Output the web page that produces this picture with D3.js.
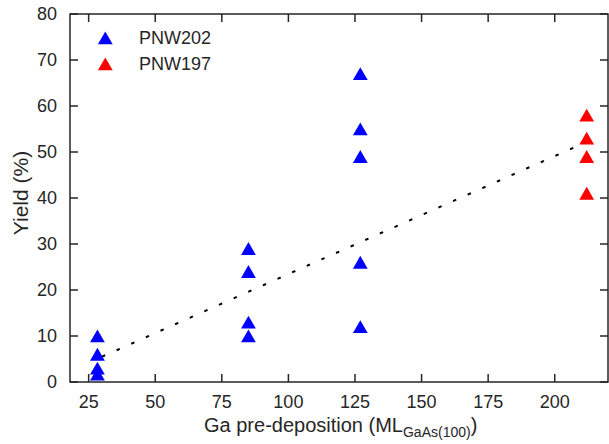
<!DOCTYPE html>
<html><head><meta charset="utf-8">
<script src="https://cdn.jsdelivr.net/npm/d3@7"></script>
<style>body{margin:0;background:#fff}svg{display:block}text{font-family:"Liberation Sans",Arial,sans-serif;fill:#262626}</style>
</head><body>
<script>
const xTicks = [25, 50, 75, 100, 125, 150, 175, 200];
const yTicks = [0, 10, 20, 30, 40, 50, 60, 70, 80];
const pnw202X = [28.3, 28.3, 28.3, 28.3, 85, 85, 85, 85, 127, 127, 127, 127, 127];
const pnw202Y = [10, 6, 3, 1.7, 29, 24, 13, 10, 67, 55, 49, 26, 12];
const pnw197X = [212, 212, 212, 212];
const pnw197Y = [58, 53, 49, 41];
const fitX = [30, 212];
const fitY = [5.5, 52.2];
const seriesNames = ["PNW202", "PNW197"];
const seriesColors = ["#0000ff", "#ff0000"];

const W = 609, H = 444;
const L = 70, R = 608, T = 14, B = 382;
const svg = d3.select("body").append("svg").attr("width", W).attr("height", H);
const x = d3.scaleLinear().domain([18, 220]).range([L, R]);
const y = d3.scaleLinear().domain([0, 80]).range([B, T]);
const axisColor = "#262626";

// dotted fit line
svg.append("path")
  .datum(fitX.map((v, i) => [v, fitY[i]]))
  .attr("d", d3.line().x(d => x(d[0])).y(d => y(d[1])))
  .attr("fill", "none").attr("stroke", "#000").attr("stroke-width", 2)
  .attr("stroke-dasharray", "3.5,12.5");

const tri = d3.symbol().type(d3.symbolTriangle).size(95);
function drawSeries(xs, ys, color) {
  svg.append("g").selectAll("path").data(xs.map((v, i) => [v, ys[i]])).join("path")
    .attr("d", tri)
    .attr("transform", d => `translate(${x(d[0])},${y(d[1]) + 2})`)
    .attr("fill", color);
}
drawSeries(pnw202X, pnw202Y, seriesColors[0]);
drawSeries(pnw197X, pnw197Y, seriesColors[1]);

// axes (box with inward ticks)
const g = svg.append("g");
g.append("rect").attr("x", L).attr("y", T).attr("width", R - L).attr("height", B - T)
  .attr("fill", "none").attr("stroke", axisColor).attr("stroke-width", 1.5);
const tl = 8;
xTicks.forEach(t => {
  g.append("line").attr("x1", x(t)).attr("x2", x(t)).attr("y1", B).attr("y2", B - tl).attr("stroke", axisColor).attr("stroke-width", 1.5);
  g.append("line").attr("x1", x(t)).attr("x2", x(t)).attr("y1", T).attr("y2", T + tl).attr("stroke", axisColor).attr("stroke-width", 1.5);
  g.append("text").attr("x", x(t)).attr("y", 408).attr("text-anchor", "middle").attr("font-size", 18).text(t);
});
yTicks.forEach(t => {
  g.append("line").attr("x1", L).attr("x2", L + tl).attr("y1", y(t)).attr("y2", y(t)).attr("stroke", axisColor).attr("stroke-width", 1.5);
  g.append("line").attr("x1", R).attr("x2", R - tl).attr("y1", y(t)).attr("y2", y(t)).attr("stroke", axisColor).attr("stroke-width", 1.5);
  g.append("text").attr("x", 57).attr("y", y(t) + 6.3).attr("text-anchor", "end").attr("font-size", 18).text(t);
});

// axis labels
const xl = svg.append("text").attr("x", 204).attr("y", 432).attr("font-size", 20);
xl.append("tspan").text("Ga pre-deposition (ML");
xl.append("tspan").attr("font-size", 14).attr("dy", 5).text("GaAs(100)");
xl.append("tspan").attr("dy", -5).text(")");
svg.append("text").attr("transform", `translate(28,193) rotate(-90)`)
  .attr("text-anchor", "middle").attr("font-size", 21).text("Yield (%)");

// legend
seriesNames.forEach((n, i) => {
  const ly = 38 + i * 26;
  svg.append("path").attr("d", tri).attr("transform", `translate(105.3,${ly + 2})`).attr("fill", seriesColors[i]);
  svg.append("text").attr("x", 139).attr("y", ly + 5.5).attr("font-size", 18).text(n);
});
</script>
</body></html>
